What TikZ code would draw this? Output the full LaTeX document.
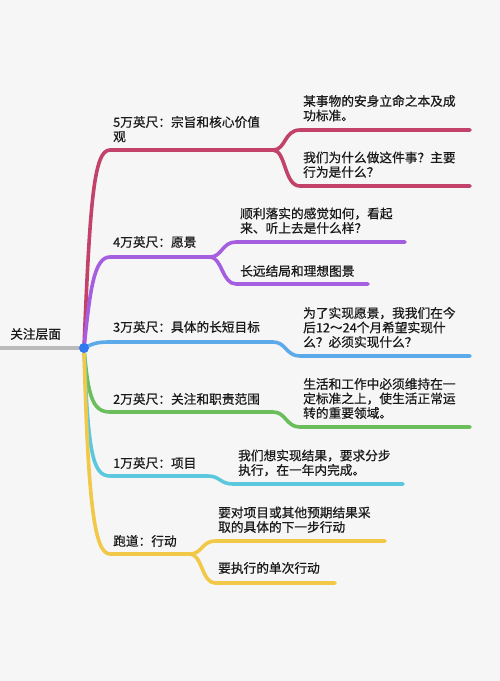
\documentclass[tikz,border=0pt]{standalone}
\usepackage{fontspec}
\usepackage{xcolor}
\usepackage{tikz}
\usetikzlibrary{positioning}
\newfontfamily\cjkfont[FakeBold=0.7]{Noto Sans CJK SC}
\definecolor{mapbg}{RGB}{246, 246, 246}
\definecolor{maptext}{RGB}{26, 26, 26}
\definecolor{rootgray}{RGB}{186, 186, 186}
\definecolor{hubblue}{RGB}{48, 122, 240}
\definecolor{mapcrimson}{RGB}{194, 66, 106}
\definecolor{mappurple}{RGB}{166, 94, 224}
\definecolor{mapsky}{RGB}{92, 170, 234}
\definecolor{mapgreen}{RGB}{106, 190, 92}
\definecolor{mapcyan}{RGB}{92, 200, 222}
\definecolor{mapyellow}{RGB}{241, 200, 72}

\begin{document}
\begin{tikzpicture}[x=1pt, y=-1pt,
    branch/.style={line width=3.6pt, line cap=round},
    lbl/.style={font=\cjkfont\fontsize{12.7}{14.5}\selectfont, text=maptext, inner sep=0pt, text depth=0pt, align=left}
]
    % Canvas
    \fill[mapbg] (0,0) rectangle (500,681);
    \useasboundingbox (0,0) rectangle (500,681);

    % Root
    \coordinate (left) at (0,348);
    \coordinate (root) at (84,348);
    \draw[branch, rootgray, line cap=butt] (left) -- (root);
    \node[lbl, above right=9pt and 10pt of left] (focus) {关注层面};

    % 5万英尺
    \coordinate (b5) at (110,150);
    \coordinate (b5s) at (273,150);
    \coordinate (b5u) at (300,130);
    \coordinate (b5ue) at (470,130);
    \coordinate (b5d) at (300,186);
    \coordinate (b5de) at (470,186);
    \draw[branch, mapcrimson] (root) .. controls (90,200) and (94,150) .. (b5) -- (b5s)
        .. controls (286,150) and (284,130) .. (b5u) -- (b5ue);
    \draw[branch, mapcrimson] (b5s) .. controls (286,150) and (284,186) .. (b5d) -- (b5de);
    \node[lbl, above right=8.5pt and 3pt of b5] (l5) {5万英尺：宗旨和核心价值\\观};
    \node[lbl, above right=9.5pt and 3pt of b5u] (l5u) {某事物的安身立命之本及成\\功标准。};
    \node[lbl, above right=9pt and 3pt of b5d] (l5d) {我们为什么做这件事？主要\\行为是什么？};

    % 4万英尺
    \coordinate (b4) at (110,257);
    \coordinate (b4s) at (210,257);
    \coordinate (b4u) at (236,242);
    \coordinate (b4ue) at (405,242);
    \coordinate (b4d) at (236,284);
    \coordinate (b4de) at (368,284);
    \draw[branch, mappurple] (root) .. controls (90,290) and (94,257) .. (b4) -- (b4s)
        .. controls (222,257) and (222,242) .. (b4u) -- (b4ue);
    \draw[branch, mappurple] (b4s) .. controls (222,257) and (222,284) .. (b4d) -- (b4de);
    \node[lbl, above right=10pt and 3pt of b4] (l4) {4万英尺：愿景};
    \node[lbl, above right=9pt and 4pt of b4u] (l4u) {顺利落实的感觉如何，看起\\来、听上去是什么样？};
    \node[lbl, above right=8pt and 4pt of b4d] (l4d) {长远结局和理想图景};

    % 3万英尺
    \coordinate (b3) at (110,342);
    \coordinate (b3s) at (273,342);
    \coordinate (b3d) at (300,356);
    \coordinate (b3de) at (470,356);
    \draw[branch, mapsky] (root) .. controls (94,343) and (98,342) .. (b3) -- (b3s)
        .. controls (286,342) and (286,356) .. (b3d) -- (b3de);
    \node[lbl, above right=10pt and 3pt of b3] (l3) {3万英尺：具体的长短目标};
    \node[lbl, above right=9pt and 3pt of b3d] (l3d) {为了实现愿景，我我们在今\\后12～24个月希望实现什\\么？必须实现什么？};

    % 2万英尺
    \coordinate (b2) at (110,412);
    \coordinate (b2s) at (273,412);
    \coordinate (b2d) at (300,427);
    \coordinate (b2de) at (470,427);
    \draw[branch, mapgreen] (root) .. controls (88,395) and (92,412) .. (b2) -- (b2s)
        .. controls (286,412) and (286,427) .. (b2d) -- (b2de);
    \node[lbl, above right=8pt and 3pt of b2] (l2) {2万英尺：关注和职责范围};
    \node[lbl, above right=9pt and 3pt of b2d] (l2d) {生活和工作中必须维持在一\\定标准之上，使生活正常运\\转的重要领域。};

    % 1万英尺
    \coordinate (b1) at (110,476);
    \coordinate (b1s) at (208,476);
    \coordinate (b1d) at (233,484);
    \coordinate (b1de) at (403,484);
    \draw[branch, mapcyan] (root) .. controls (88,450) and (92,476) .. (b1) -- (b1s)
        .. controls (220,476) and (220,484) .. (b1d) -- (b1de);
    \node[lbl, above right=8pt and 3pt of b1] (l1) {1万英尺：项目};
    \node[lbl, above right=9pt and 5pt of b1d] (l1d) {我们想实现结果，要求分步\\执行，在一年内完成。};

    % 跑道
    \coordinate (b0) at (110,554);
    \coordinate (b0s) at (190,554);
    \coordinate (b0u) at (215,541);
    \coordinate (b0ue) at (385,541);
    \coordinate (b0d) at (215,583);
    \coordinate (b0de) at (335,583);
    \draw[branch, mapyellow] (root) .. controls (88,500) and (94,554) .. (b0) -- (b0s)
        .. controls (202,554) and (202,541) .. (b0u) -- (b0ue);
    \draw[branch, mapyellow] (b0s) .. controls (202,554) and (202,583) .. (b0d) -- (b0de);
    \node[lbl, above right=8pt and 3pt of b0] (l0) {跑道：行动};
    \node[lbl, above right=9pt and 3pt of b0u] (l0u) {要对项目或其他预期结果采\\取的具体的下一步行动};
    \node[lbl, above right=10pt and 3pt of b0d] (l0d) {要执行的单次行动};

    % Hub dot
    \node[circle, fill=hubblue, minimum size=10pt, inner sep=0pt] (hub) at (root) {};
\end{tikzpicture}
\end{document}
